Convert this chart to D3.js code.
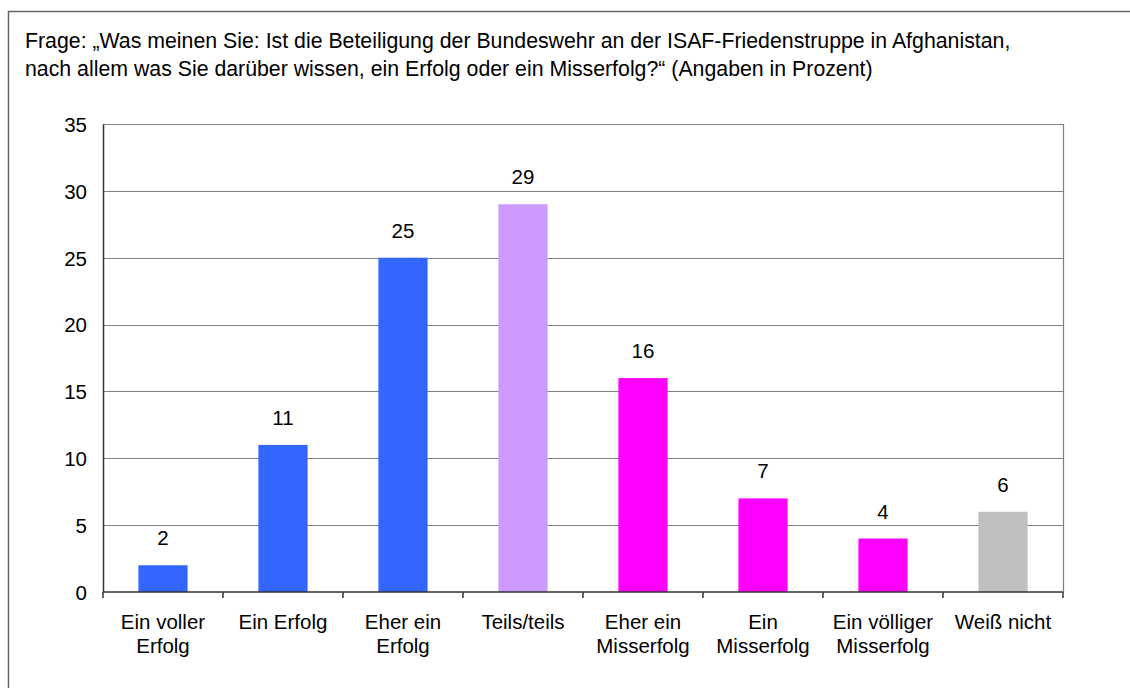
<!DOCTYPE html>
<html><head><meta charset="utf-8">
<script src="https://cdn.jsdelivr.net/npm/d3@7"></script>
<style>
html,body{margin:0;padding:0;background:#fff;}
text{font-family:"Liberation Sans",Arial,sans-serif;fill:#000;}
</style></head>
<body>
<svg id="c" width="1130" height="688"></svg>
<script>
const categories = [["Ein voller","Erfolg"],["Ein Erfolg"],["Eher ein","Erfolg"],["Teils/teils"],["Eher ein","Misserfolg"],["Ein","Misserfolg"],["Ein völliger","Misserfolg"],["Weiß nicht"]];
const values = [2, 11, 25, 29, 16, 7, 4, 6];
const colors = ["#3366FF","#3366FF","#3366FF","#CC99FF","#FF00FF","#FF00FF","#FF00FF","#C0C0C0"];
const yTicks = [0,5,10,15,20,25,30,35];
const titleLines = ["Frage: „Was meinen Sie: Ist die Beteiligung der Bundeswehr an der ISAF-Friedenstruppe in Afghanistan,",
  "nach allem was Sie darüber wissen, ein Erfolg oder ein Misserfolg?“ (Angaben in Prozent)"];

const svg = d3.select("#c");
const L = 103, R = 1063, T = 124, B = 592;
const FS = "20.5px";

// outer frame (extends beyond right/bottom)
svg.append("path").attr("d", "M8.5,700 L8.5,11.5 L1140,11.5")
  .attr("fill","none").attr("stroke","#666").attr("stroke-width",1.5);

const title = svg.append("text").attr("x",25).attr("y",48).style("font-size","21.3px");
titleLines.forEach((t,i)=>title.append("tspan").attr("x",25).attr("dy", i?28:0).text(t));

const x = d3.scaleBand().domain(d3.range(categories.length)).range([L,R]).paddingInner(0.59).paddingOuter(0.295);
const xb = d3.scaleBand().domain(d3.range(categories.length)).range([L,R]);
const y = d3.scaleLinear().domain([0,35]).range([B,T]);

// gridlines
svg.append("g").selectAll("line").data(yTicks.filter(d=>d>0)).join("line")
  .attr("x1",L).attr("x2",R).attr("y1",d=>Math.round(y(d))+0.5).attr("y2",d=>Math.round(y(d))+0.5)
  .attr("stroke","#808080").attr("stroke-width",1.2);
// right border
svg.append("line").attr("x1",R+0.5).attr("x2",R+0.5).attr("y1",T).attr("y2",B).attr("stroke","#808080").attr("stroke-width",1.2);

// bars
svg.append("g").selectAll("rect").data(values).join("rect")
  .attr("x",(d,i)=>x(i)).attr("width",x.bandwidth())
  .attr("y",d=>y(d)).attr("height",d=>B-y(d)).attr("fill",(d,i)=>colors[i]);

// value labels
svg.append("g").selectAll("text").data(values).join("text")
  .attr("x",(d,i)=>x(i)+x.bandwidth()/2).attr("y",d=>y(d)-20)
  .attr("text-anchor","middle").style("font-size",FS).text(d=>d);

// y axis
const ya = svg.append("g").attr("transform",`translate(${L},0)`)
  .call(d3.axisLeft(y).tickValues(yTicks).tickSize(0).tickPadding(16));
ya.select(".domain").attr("stroke","#333").attr("stroke-width",1.5);
ya.selectAll("text").style("font-size",FS).attr("font-family",null).attr("dy","0.36em");

// x axis
const xa = svg.append("g").attr("transform",`translate(0,${B})`);
xa.append("line").attr("x1",L).attr("x2",R).attr("stroke","#333").attr("stroke-width",1.5);
xa.selectAll(".tk").data(d3.range(categories.length+1)).join("line").attr("class","tk")
  .attr("x1",i=>i<categories.length?xb(i):R).attr("x2",i=>i<categories.length?xb(i):R)
  .attr("y1",0).attr("y2",6).attr("stroke","#333").attr("stroke-width",1.5);
xa.selectAll(".lbl").data(categories).join("text").attr("class","lbl")
  .attr("x",(d,i)=>xb(i)+xb.bandwidth()/2).attr("y",37).attr("text-anchor","middle").style("font-size",FS)
  .each(function(d){ const t=d3.select(this); d.forEach((s,k)=>t.append("tspan").attr("x",t.attr("x")).attr("dy",k?24:0).text(s)); });
</script>
</body></html>
